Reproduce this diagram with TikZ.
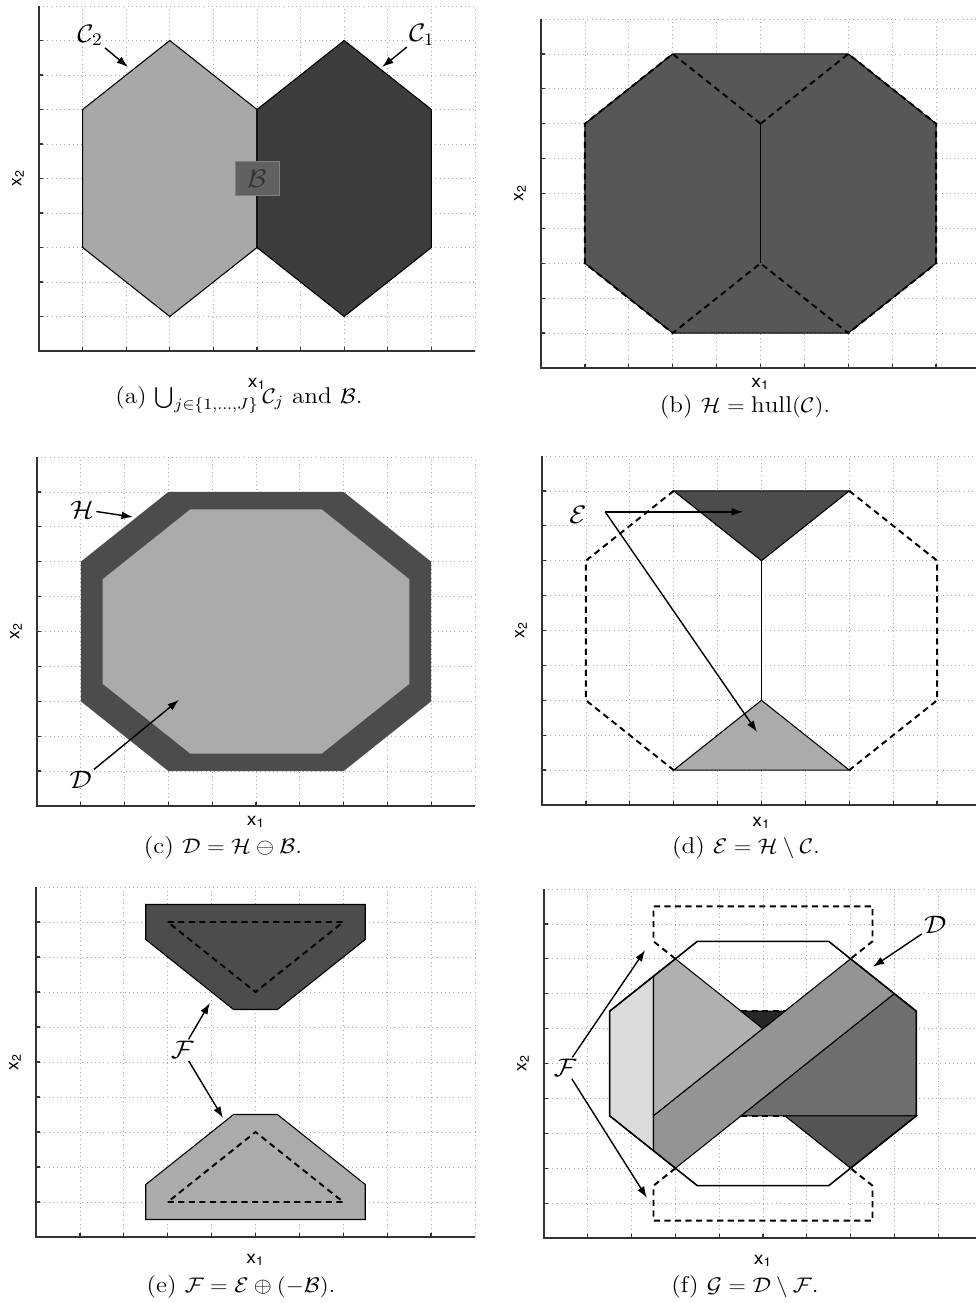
\documentclass[tikz,border=0pt]{standalone}
\usepackage{fontspec}
\usepackage{amsmath}
\newfontfamily\axisfont{TeX Gyre Heros}
\usetikzlibrary{arrows.meta}

\begin{document}
\begin{tikzpicture}[x=0.02cm, y=-0.02cm,
	panel/.style n args={4}{shift={(#1,#2)}, x={(#3,0)}, y={(0,-#4)}},
	gridline/.style={black!35, dotted, line width=0.4pt},
	axisline/.style={black!80, line width=0.7pt},
	edge/.style={draw=black, line width=0.6pt},
	cut/.style={dash pattern=on 3.5pt off 2.5pt, line width=1.1pt},
	pointer/.style={-{Latex[length=6.5pt,width=4.5pt]}, line width=0.8pt},
	setlabel/.style={inner sep=1pt, font=\fontsize{14}{16}\selectfont, xscale=1.1, transform shape},
	caption/.style={font=\fontsize{13}{15}\selectfont, xscale=1.1, transform shape},
	axislabel/.style={inner sep=0pt, font=\axisfont\fontsize{10}{11}\selectfont}]
	\clip (0,0) rectangle (976,1303);
	\fill[white] (0,0) rectangle (976,1303);
	% grids, axes and axis labels of the six panels
	\foreach \px/\py/\ux/\uy/\lx in {39/351/43.6/34.5/384, 541/368/43.9/34.9/384, 37/806/43.8/34.9/822,
		542/805/43.9/34.9/823, 36/1237/43.9/35/1260, 544/1238/43.8/34.9/1261}{
		\begin{scope}[panel={\px}{\py}{\ux}{\uy}]
			\foreach \k in {1,...,10}{
				\draw[gridline] (\k,0) -- (\k,10);
				\draw[gridline] (0,\k) -- (10,\k);
			}
			\foreach \k in {1,...,9}{
				\draw[axisline] (\k,0) -- (\k,0.12);
				\draw[axisline] (0,\k) -- (0.09,\k);
			}
			\draw[axisline] (0,10) -- (0,0) -- (10,0);
		\end{scope}
		\node[axislabel, xscale=1.1, transform shape] (xlab\px) at ({\px+5*\ux},\lx) {x\textsubscript{1}};
		\node[axislabel, rotate=90] (ylab\px) at ({\px-21},{\py-5*\uy}) {x\textsubscript{2}};
	}

	% (a) the two hexagons and the square
	\begin{scope}[panel={39}{351}{43.6}{34.5}]
		\filldraw[edge, fill=black!34] (3,9) -- (1,7) -- (1,3) -- (3,1) -- (5,3) -- (5,7) -- cycle;
		\filldraw[edge, fill=black!76] (7,9) -- (9,7) -- (9,3) -- (7,1) -- (5,3) -- (5,7) -- cycle;
		\filldraw[draw=black!50, fill=black!62, line width=0.3pt] (4.5,4.5) rectangle (5.5,5.5);
		\node[setlabel, text=black!80] (sqb) at (5,5) {$\mathcal{B}$};
		\node[setlabel] (c2) at (1.17,9.15) {$\mathcal{C}_2$};
		\node[setlabel] (c1) at (8.78,9.16) {$\mathcal{C}_1$};
		\coordinate (c2tip) at (2.04,8.23);
		\coordinate (c1tip) at (7.87,8.23);
		\draw[pointer] (c2) -- (c2tip);
		\draw[pointer] (c1) -- (c1tip);
	\end{scope}

	% (b) hull
	\begin{scope}[panel={541}{368}{43.9}{34.9}]
		\filldraw[edge, fill=black!66] (3,9) -- (7,9) -- (9,7) -- (9,3) -- (7,1) -- (3,1) -- (1,3) -- (1,7) -- cycle;
		\draw[cut] (5,7) -- (3,9) -- (1,7) -- (1,3) -- (3,1) -- (5,3);
		\draw[cut] (5,7) -- (7,9) -- (9,7) -- (9,3) -- (7,1) -- (5,3);
		\draw[edge] (5,7) -- (5,3);
	\end{scope}

	% (c) erosion
	\begin{scope}[panel={37}{806}{43.8}{34.9}]
		\fill[black!70] (3,9) -- (7,9) -- (9,7) -- (9,3) -- (7,1) -- (3,1) -- (1,3) -- (1,7) -- cycle;
		\fill[black!33] (3.5,8.5) -- (6.5,8.5) -- (8.5,6.5) -- (8.5,3.5) -- (6.5,1.5) -- (3.5,1.5) -- (1.5,3.5) -- (1.5,6.5) -- cycle;
		\node[setlabel] (hl) at (1.03,8.5) {$\mathcal{H}$};
		\node[setlabel] (dl) at (1.0,0.74) {$\mathcal{D}$};
		\coordinate (htip) at (2.19,8.28);
		\coordinate (dtip) at (3.24,3.04);
		\draw[pointer] (hl) -- (htip);
		\draw[pointer] (dl) -- (dtip);
	\end{scope}

	% (d) hull minus the hexagons
	\begin{scope}[panel={542}{805}{43.9}{34.9}]
		\filldraw[edge, fill=black!70] (3,9) -- (7,9) -- (5,7) -- cycle;
		\filldraw[edge, fill=black!33] (3,1) -- (7,1) -- (5,3) -- cycle;
		\draw[edge] (5,7) -- (5,3);
		\draw[cut] (3,9) -- (1,7) -- (1,3) -- (3,1);
		\draw[cut] (7,9) -- (9,7) -- (9,3) -- (7,1);
		\node[setlabel] (el) at (0.82,8.3) {$\mathcal{E}$};
		\coordinate (efork) at (1.44,8.4);
		\coordinate (etop) at (4.58,8.4);
		\coordinate (ebot) at (4.9,2.09);
		\draw[pointer] (efork) -- (etop);
		\draw[pointer] (efork) -- (ebot);
	\end{scope}

	% (e) dilation
	\begin{scope}[panel={36}{1237}{43.9}{35}]
		\filldraw[edge, fill=black!70] (2.5,9.5) -- (7.5,9.5) -- (7.5,8.5) -- (5.5,6.5) -- (4.5,6.5) -- (2.5,8.5) -- cycle;
		\filldraw[edge, fill=black!33] (2.5,0.5) -- (7.5,0.5) -- (7.5,1.5) -- (5.5,3.5) -- (4.5,3.5) -- (2.5,1.5) -- cycle;
		\draw[cut] (3,9) -- (7,9) -- (5,7) -- cycle;
		\draw[cut] (3,1) -- (7,1) -- (5,3) -- cycle;
		\node[setlabel] (fl) at (3.33,5.34) {$\mathcal{F}$};
		\coordinate (ftop) at (3.96,6.69);
		\coordinate (fbot) at (4.26,3.4);
		\draw[pointer] (fl) -- (ftop);
		\draw[pointer] (fl) -- (fbot);
	\end{scope}

	% (f) what is left of D
	\begin{scope}[panel={544}{1238}{43.8}{34.9}]
		\filldraw[edge, fill=black!14] (1.5,3.5) -- (1.5,6.5) -- (2.5,7.5) -- (2.5,2.5) -- cycle;
		\filldraw[edge, fill=black!31] (2.5,7.5) -- (3,8) -- (5,6) -- (2.5,3.5) -- cycle;
		\filldraw[edge, fill=black!42] (2.5,3.5) -- (7,8) -- (8,7) -- (3,2) -- (2.5,2.5) -- cycle;
		\filldraw[edge, fill=black!57] (4.5,3.5) -- (8,7) -- (8.5,6.5) -- (8.5,3.5) -- cycle;
		\filldraw[edge, fill=black!67] (5.5,3.5) -- (8.5,3.5) -- (7,2) -- cycle;
		\filldraw[edge, fill=black!85] (4.5,6.5) -- (5.5,6.5) -- (5,6) -- cycle;
		\draw[line width=0.9pt] (3.5,8.5) -- (6.5,8.5) -- (8.5,6.5) -- (8.5,3.5) -- (6.5,1.5) -- (3.5,1.5) -- (1.5,3.5) -- (1.5,6.5) -- cycle;
		\draw[cut] (3,8) -- (2.5,8.5) -- (2.5,9.5) -- (7.5,9.5) -- (7.5,8.5) -- (7,8);
		\draw[cut] (3,2) -- (2.5,1.5) -- (2.5,0.5) -- (7.5,0.5) -- (7.5,1.5) -- (7,2);
		\draw[cut] (4.5,6.5) -- (5.5,6.5);
		\draw[cut] (4.5,3.5) -- (5.5,3.5);
		\node[setlabel] (gd) at (8.93,8.97) {$\mathcal{D}$};
		\node[setlabel] (gf) at (0.48,4.87) {$\mathcal{F}$};
		\coordinate (gdtip) at (7.51,7.77);
		\coordinate (gftop) at (2.31,8.25);
		\coordinate (gfbot) at (2.35,1.15);
		\draw[pointer] (gd) -- (gdtip);
		\draw[pointer] (gf) -- (gftop);
		\draw[pointer] (gf) -- (gfbot);
	\end{scope}

	% captions
	\node[caption] (capa) at (239,400) {(a) $\bigcup_{j\in\{1,\ldots,J\}}\mathcal{C}_j$ and $\mathcal{B}$.};
	\node[caption] (capb) at (745,407) {(b) $\mathcal{H}=\mathrm{hull}(\mathcal{C})$.};
	\node[caption] (capc) at (223,848) {(c) $\mathcal{D}=\mathcal{H}\ominus\mathcal{B}$.};
	\node[caption] (capd) at (746,848) {(d) $\mathcal{E}=\mathcal{H}\setminus\mathcal{C}$.};
	\node[caption] (cape) at (241,1287) {(e) $\mathcal{F}=\mathcal{E}\oplus(-\mathcal{B})$.};
	\node[caption] (capf) at (745,1287) {(f) $\mathcal{G}=\mathcal{D}\setminus\mathcal{F}$.};
\end{tikzpicture}
\end{document}
